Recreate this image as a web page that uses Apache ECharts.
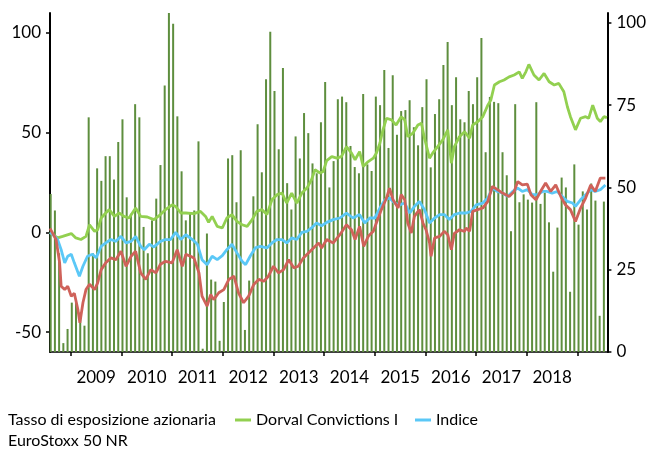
<!DOCTYPE html>
<html>
<head>
<meta charset="utf-8">
<script src="https://cdn.jsdelivr.net/npm/echarts@6/dist/echarts.min.js"></script>
<style>
html, body { margin: 0; padding: 0; background: #fff; }
#chart { width: 649px; height: 453px; }
</style>
</head>
<body>
<div id="chart"></div>
<script>
// monthly equity exposure, Aug 2008 .. Jul 2019 (right axis, %)
let startYear = 2008, startMonth = 8;
let exposure = [
	48, 43, 30, 2.7, 7, 15, 16, 12, 8, 71.3,
	30, 55.8, 52, 59.5, 59.5, 52.4, 63.8, 70.7, 47, 42,
	75.3, 71.3, 38, 30, 40, 46.6, 56.8, 81, 103, 99.7,
	71.6, 54.9, 40, 42, 43, 64, 1, 36, 22, 21.4,
	3.4, 15.2, 58.8, 59.8, 45.5, 61.3, 6.7, 21.7, 47.3, 69.2,
	54.6, 82.9, 97.3, 79.3, 61.6, 86.3, 51.3, 43.3, 65.5, 58.8,
	72.6, 66.5, 57.3, 54.3, 69.8, 82, 50, 58, 76.8, 77.6,
	75.9, 62.6, 56.2, 54.3, 78.4, 57, 55, 77.6, 75, 85.7,
	62, 84.1, 66, 73.2, 73.5, 76.5, 68.3, 62.8, 74.4, 82.9,
	56.1, 72.3, 76.8, 87.2, 94.2, 75, 83.5, 70.7, 69.8, 79.3,
	75.3, 83.5, 95.4, 60.7, 77.5, 76, 75.6, 60.7, 53.7, 36.7,
	75.3, 45.5, 47.9, 46.3, 45.4, 75.9, 45, 48.4, 39.4, 24.4,
	37.8, 53, 50, 18.3, 57, 38.7, 48.8, 43.3, 51.2, 46,
	11, 45.7
];

// performance since launch (left axis, %), [decimal year, value]
let dorval = [
	[2008.59, 0], [2008.74, -2.8], [2008.84, -2], [2009.01, -0.6], [2009.10, -2.8], [2009.20, -3.6],
	[2009.30, -2], [2009.37, 3.8], [2009.47, 0.5], [2009.53, 1.3], [2009.60, 7.2], [2009.69, 9.7],
	[2009.76, 11.4], [2009.86, 8], [2009.96, 9.7], [2010.05, 8], [2010.15, 7.2], [2010.28, 12.2],
	[2010.38, 8], [2010.51, 7.7], [2010.64, 6.4], [2010.77, 8.9], [2010.87, 11.4], [2011.00, 13.8],
	[2011.07, 13], [2011.17, 9.7], [2011.27, 9.7], [2011.30, 10.5], [2011.43, 9.4], [2011.56, 10.5],
	[2011.66, 8], [2011.72, 5], [2011.79, 8], [2011.89, 3], [2011.99, 2.2], [2012.08, 7.2],
	[2012.18, 8.9], [2012.28, 5.5], [2012.38, 3.8], [2012.48, 3], [2012.58, 6.4], [2012.67, 10.5],
	[2012.77, 11.4], [2012.87, 8.9], [2012.97, 16.3], [2013.07, 18.9], [2013.17, 19.7], [2013.26, 14.7],
	[2013.36, 19.7], [2013.46, 14.7], [2013.56, 19.7], [2013.66, 22.2], [2013.75, 26.4], [2013.82, 31.4],
	[2013.92, 29.7], [2013.98, 30.5], [2014.05, 36], [2014.15, 38], [2014.25, 37.2], [2014.34, 38],
	[2014.44, 43], [2014.54, 39.7], [2014.61, 36.4], [2014.70, 40.5], [2014.77, 33], [2014.87, 35.5],
	[2014.97, 37.2], [2015.03, 39.7], [2015.10, 44.7], [2015.16, 51.4], [2015.23, 57.2], [2015.33, 56.4],
	[2015.42, 53.8], [2015.52, 58], [2015.59, 56.4], [2015.65, 48], [2015.75, 49.7], [2015.85, 53.8],
	[2015.92, 54.7], [2015.98, 47.2], [2016.08, 37.2], [2016.14, 39.7], [2016.24, 43], [2016.34, 46.4],
	[2016.44, 51.4], [2016.51, 34.7], [2016.57, 43], [2016.67, 48], [2016.77, 50.5], [2016.80, 49.7],
	[2016.87, 47.2], [2016.93, 53.8], [2017.03, 55.5], [2017.13, 58], [2017.23, 63.8], [2017.29, 66.4],
	[2017.36, 73.9], [2017.46, 75.5], [2017.55, 76.4], [2017.65, 78], [2017.75, 78.9], [2017.85, 80.5],
	[2017.91, 77.2], [2017.98, 80.5], [2018.04, 84.2], [2018.14, 78.9], [2018.24, 76.4], [2018.34, 79.7],
	[2018.44, 75.5], [2018.54, 73.9], [2018.63, 74.7], [2018.73, 70.5], [2018.80, 63], [2018.86, 58],
	[2018.96, 51.4], [2019.06, 57.2], [2019.16, 58], [2019.22, 57.2], [2019.30, 63.8], [2019.39, 57.2],
	[2019.45, 55.5], [2019.52, 58], [2019.58, 57.5]
];

let indice = [
	[2008.59, 0], [2008.65, -1.2], [2008.74, -3.6], [2008.81, -8.7], [2008.88, -15.3], [2008.94, -12],
	[2009.01, -11], [2009.07, -15.3], [2009.17, -22], [2009.24, -17], [2009.33, -12], [2009.43, -11],
	[2009.50, -12.8], [2009.60, -7], [2009.69, -5.3], [2009.79, -3.6], [2009.89, -4.5], [2009.99, -2],
	[2010.09, -5.3], [2010.19, -4.5], [2010.28, -2], [2010.38, -7], [2010.45, -8.7], [2010.55, -6],
	[2010.64, -7.3], [2010.77, -4.5], [2010.87, -3.6], [2010.97, -3.6], [2011.07, 0], [2011.17, -3.6],
	[2011.27, -1.2], [2011.30, -2], [2011.40, -3.6], [2011.50, -6], [2011.59, -13.7], [2011.69, -16.2],
	[2011.79, -12], [2011.89, -13.7], [2011.99, -11.7], [2012.08, -8.7], [2012.18, -6], [2012.28, -10.3],
	[2012.38, -14.5], [2012.45, -16.2], [2012.54, -12], [2012.64, -7.8], [2012.74, -7], [2012.87, -7.8],
	[2012.97, -5.3], [2013.07, -3.6], [2013.17, -3.6], [2013.26, -5.3], [2013.36, -2.8], [2013.46, -3.6],
	[2013.56, 0], [2013.66, 0.5], [2013.75, 2.2], [2013.85, 4.7], [2013.95, 3.3], [2014.05, 5],
	[2014.18, 6.4], [2014.31, 7.2], [2014.44, 9.7], [2014.57, 7.2], [2014.70, 8.9], [2014.80, 4.7],
	[2014.90, 7.2], [2015.00, 7.2], [2015.10, 12.2], [2015.20, 16.3], [2015.29, 17.2], [2015.39, 14.7],
	[2015.49, 13.8], [2015.59, 14.7], [2015.69, 9.7], [2015.78, 13], [2015.88, 15.5], [2015.98, 11.4],
	[2016.08, 4.7], [2016.18, 7.2], [2016.28, 8.9], [2016.37, 8.9], [2016.47, 6.4], [2016.57, 8.9],
	[2016.67, 9.7], [2016.80, 9.7], [2016.90, 10.5], [2017.00, 13.8], [2017.13, 14.7], [2017.23, 17.2],
	[2017.32, 22.2], [2017.42, 20.5], [2017.52, 19.7], [2017.62, 18], [2017.72, 20.5], [2017.82, 22.2],
	[2017.91, 20.5], [2018.01, 21.4], [2018.11, 18.9], [2018.21, 18.9], [2018.31, 20.5], [2018.40, 20.5],
	[2018.50, 19.7], [2018.60, 20.5], [2018.70, 18], [2018.80, 15.5], [2018.90, 14.7], [2018.96, 13],
	[2019.06, 16.3], [2019.16, 18.9], [2019.26, 21.4], [2019.35, 20.5], [2019.45, 21.4], [2019.55, 23.8]
];

let eurostoxx = [
	[2008.59, 2], [2008.61, 1.3], [2008.71, -3.6], [2008.78, -15.3], [2008.81, -27], [2008.88, -28.7],
	[2008.94, -27], [2009.01, -32], [2009.07, -30.5], [2009.14, -38.7], [2009.18, -45.3], [2009.24, -35.3],
	[2009.30, -28.7], [2009.37, -26], [2009.47, -28.7], [2009.53, -25.3], [2009.60, -18.7], [2009.69, -15.3],
	[2009.79, -12.8], [2009.89, -13.7], [2009.99, -9.5], [2010.09, -17], [2010.19, -12], [2010.28, -9.5],
	[2010.38, -20.3], [2010.48, -23.6], [2010.58, -18.7], [2010.68, -20.3], [2010.77, -16], [2010.87, -14.5],
	[2011.00, -15.3], [2011.10, -8.7], [2011.20, -17], [2011.27, -11], [2011.30, -11.2], [2011.43, -12.8],
	[2011.53, -20.3], [2011.59, -32], [2011.69, -37], [2011.76, -31.2], [2011.82, -33.7], [2011.92, -30.3],
	[2012.02, -28.7], [2012.12, -23.6], [2012.22, -22], [2012.31, -30.3], [2012.41, -35.3], [2012.51, -32],
	[2012.61, -26.2], [2012.71, -23.6], [2012.81, -24.5], [2012.90, -22], [2013.00, -17], [2013.10, -20.3],
	[2013.20, -18.7], [2013.30, -13.7], [2013.40, -17.8], [2013.49, -17], [2013.59, -12.8], [2013.69, -10.3],
	[2013.79, -7.8], [2013.89, -5.3], [2013.95, -7.8], [2014.05, -3.6], [2014.18, -5.3], [2014.31, -1.2],
	[2014.44, 3.8], [2014.54, 1.3], [2014.61, -3.6], [2014.70, 3], [2014.78, -7], [2014.87, -2],
	[2014.97, 0.5], [2015.03, 4.7], [2015.13, 11.4], [2015.23, 17.2], [2015.29, 22.2], [2015.36, 16.3],
	[2015.46, 12.2], [2015.52, 18.9], [2015.59, 16.3], [2015.65, 4.7], [2015.72, -0.3], [2015.78, 8],
	[2015.88, 11.4], [2015.95, 4.7], [2016.01, 1.3], [2016.08, -5.3], [2016.11, -12], [2016.18, -2.8],
	[2016.28, -2], [2016.37, 0.5], [2016.44, -1.2], [2016.51, -8.7], [2016.57, -0.5], [2016.67, 1.3],
	[2016.77, 0.5], [2016.80, 2.2], [2016.87, 0.5], [2016.93, 10.5], [2017.03, 11.4], [2017.13, 12.2],
	[2017.23, 15.5], [2017.32, 23], [2017.42, 21.4], [2017.52, 19.7], [2017.65, 18], [2017.75, 20.5],
	[2017.82, 25.5], [2017.91, 23.8], [2018.01, 24.2], [2018.08, 18.9], [2018.18, 16.3], [2018.27, 20.5],
	[2018.37, 24.7], [2018.47, 20.5], [2018.57, 23.8], [2018.67, 18], [2018.76, 13.8], [2018.86, 11.4],
	[2018.96, 5.5], [2019.06, 12.2], [2019.16, 17.2], [2019.26, 23.8], [2019.35, 20.5], [2019.45, 27.2],
	[2019.55, 27.2]
];

let years = [2009, 2010, 2011, 2012, 2013, 2014, 2015, 2016, 2017, 2018];
let leftTicks = [-50, 0, 50, 100];
let rightTicks = [0, 25, 50, 75, 100];

let font = "Lato";
let black = "#000";

let chart = echarts.init(document.getElementById("chart"));

// bar position: a few days into each month
let exposureData = exposure.map((v, i) => {
	let m = startMonth - 1 + i;
	return [startYear + m / 12 + 0.02, v];
});

let yearTicks = years.concat([years[years.length - 1] + 1]);

let axisText = {color: black, fontFamily: font, fontSize: 17};
let legendText = {color: black, fontFamily: font, fontSize: 16};

chart.setOption({
	animation: false,
	grid: {left: 50, right: 39, top: 13, bottom: 101},
	xAxis: {
		type: "value",
		min: 2008.59,
		max: 2019.59,
		splitLine: {show: false},
		axisLine: {onZero: false, lineStyle: {color: black, width: 1.5}},
		axisTick: {show: true, length: 4, customValues: yearTicks, lineStyle: {color: black, width: 1.5}},
		axisLabel: Object.assign({margin: 17, customValues: years.map(y => y + 0.5), formatter: v => String(Math.floor(v))}, axisText)
	},
	yAxis: [{
		type: "value",
		min: -60,
		max: 110,
		splitLine: {show: false},
		axisLine: {show: true, lineStyle: {color: black, width: 2}},
		axisTick: {show: true, length: 4, customValues: leftTicks, lineStyle: {color: black, width: 1.5}},
		axisLabel: Object.assign({margin: 9, customValues: leftTicks}, axisText)
	}, {
		type: "value",
		min: 0,
		max: 103,
		position: "right",
		splitLine: {show: false},
		axisLine: {show: true, lineStyle: {color: black, width: 2}},
		axisTick: {show: true, length: 4, customValues: rightTicks, lineStyle: {color: black, width: 1.5}},
		axisLabel: Object.assign({margin: 9, customValues: rightTicks}, axisText)
	}],
	legend: [{
		left: -2, top: 407, itemWidth: 0, itemHeight: 3, textStyle: legendText,
		data: [{name: "Tasso di esposizione azionaria", icon: "none"}]
	}, {
		left: 230, top: 407, itemWidth: 16, itemHeight: 3, textStyle: legendText,
		data: [{name: "Dorval Convictions I", icon: "rect"}]
	}, {
		left: 410, top: 407, itemWidth: 16, itemHeight: 3, textStyle: legendText,
		data: [{name: "Indice", icon: "rect"}]
	}, {
		left: -2, top: 428, itemWidth: 0, itemHeight: 3, textStyle: legendText,
		data: [{name: "EuroStoxx 50 NR", icon: "none"}]
	}],
	series: [{
		name: "Tasso di esposizione azionaria",
		type: "bar",
		yAxisIndex: 1,
		barWidth: 2,
		itemStyle: {color: "#5e8e3e"},
		data: exposureData
	}, {
		name: "Dorval Convictions I",
		type: "line",
		yAxisIndex: 0,
		showSymbol: false,
		lineStyle: {color: "#92d050", width: 2.8},
		itemStyle: {color: "#92d050"},
		data: dorval
	}, {
		name: "Indice",
		type: "line",
		yAxisIndex: 0,
		showSymbol: false,
		lineStyle: {color: "#5bc8f7", width: 2.8},
		itemStyle: {color: "#5bc8f7"},
		data: indice
	}, {
		name: "EuroStoxx 50 NR",
		type: "line",
		yAxisIndex: 0,
		showSymbol: false,
		lineStyle: {color: "#cf625a", width: 2.8},
		itemStyle: {color: "#cf625a"},
		data: eurostoxx
	}]
});
</script>
</body>
</html>
